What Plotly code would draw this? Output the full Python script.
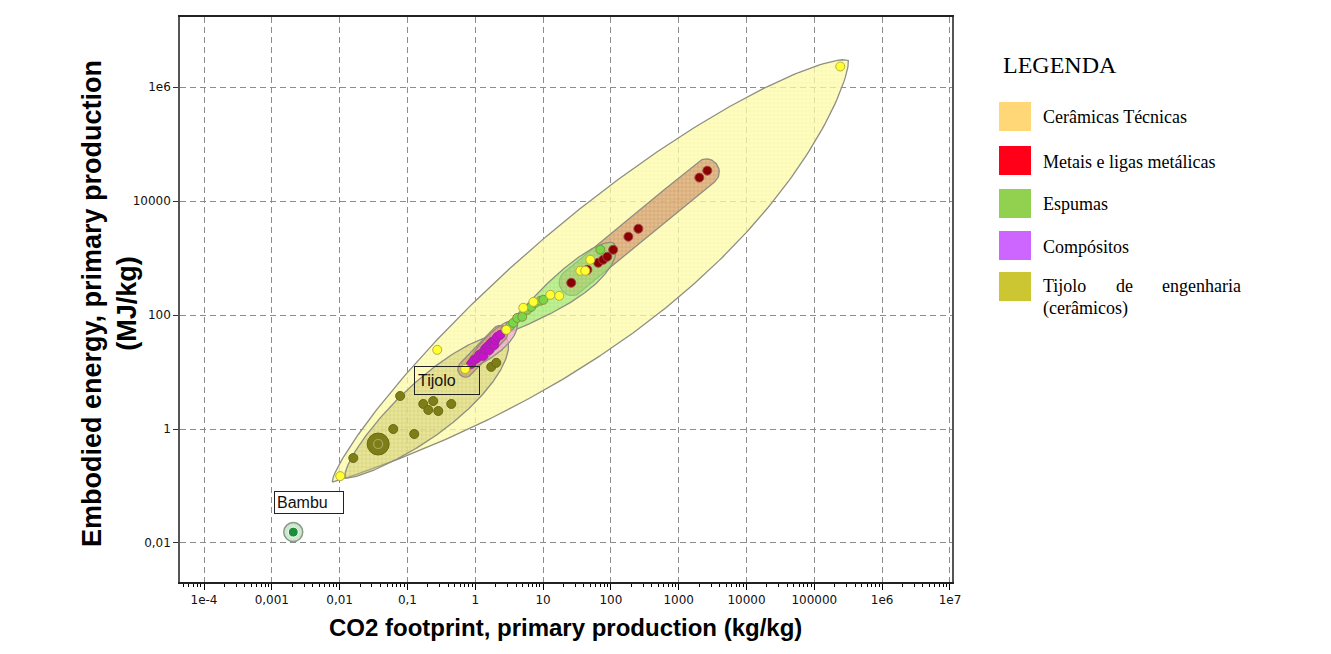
import numpy as np
import plotly.graph_objects as go

# ---------------- data ----------------
ceramicas_x = [0.0102, 0.275, 0.71, 2.87, 5.1, 7.2, 12.8, 17.3, 35.4, 41.9, 49.7, 241500]
ceramicas_y = [0.149, 24.5, 11.3, 55, 134, 170, 226, 217, 598, 598, 933, 2.3e6]

metais_x = [26, 45, 65, 77, 88.5, 108, 181, 254, 2014, 2640]
metais_y = [368, 622, 827, 933, 1054, 1400, 2370, 3270, 25800, 34200]

espumas_x = [2.77, 3.28, 3.63, 4.16, 4.93, 5.85, 6.7, 7.67, 9.1, 10.1, 69.8]
espumas_y = [55, 64.6, 73, 89, 93, 123, 139, 164, 178, 185, 1400]

compositos_x = [0.873, 0.967, 1.07, 1.15, 1.27, 1.31, 1.40, 1.50, 1.61, 1.66, 1.78, 1.91, 1.97, 2.11, 2.34]
compositos_y = [13.9, 16.3, 17.7, 20.0, 21.7, 19.2, 25.5, 27.6, 24.4, 31.2, 33.8, 29.9, 36.6, 41.4, 44.9]

tijolo_x = [0.0159, 0.037, 0.0618, 0.126, 0.078, 0.171, 0.203, 0.24, 0.285, 0.443, 1.72, 2.04]
tijolo_y = [0.31, 0.545, 1.0, 0.817, 3.8, 2.75, 2.16, 3.1, 2.07, 2.75, 12.3, 14.5]

bambu_x = [0.00207]
bambu_y = [0.0155]

legend_labels = ["Cerâmicas Técnicas", "Metais e ligas metálicas", "Espumas", "Compósitos",
                 "Tijolo de engenharia (cerâmicos)"]
legend_colors = ["#FFD777", "#FF0018", "#92D050", "#CC66FF", "#CCC633"]

x_tickvals = [1e-4, 1e-3, 1e-2, 1e-1, 1, 10, 100, 1000, 1e4, 1e5, 1e6, 1e7]
x_ticktext = ["1e-4", "0,001", "0,01", "0,1", "1", "10", "100", "1000", "10000", "100000", "1e6", "1e7"]
y_tickvals = [0.01, 1, 100, 1e4, 1e6]
y_ticktext = ["0,01", "1", "100", "10000", "1e6"]

# ---------------- geometry helpers ----------------
SX, SY = 67.8, 56.9  # px per decade, to keep envelope shapes isotropic on screen
PL, PR, PT, PB = 180, 952, 17, 582
W_FIG, H_FIG = 1331, 654


def envelope(xs, ys, off0, off1, up, down, n=160, capsule=False):
    U = np.log10(np.asarray(xs, float)) * SX
    V = np.log10(np.asarray(ys, float)) * SY
    P = np.column_stack([U, V])
    c = P.mean(axis=0)
    _, _, vt = np.linalg.svd(P - c)
    d = vt[0]
    if d[0] < 0:
        d = -d
    proj = (P - c) @ d
    a = P[np.argmin(proj)]
    b = P[np.argmax(proj)]
    t0 = a + np.array([off0[0], -off0[1]])
    t1 = b + np.array([off1[0], -off1[1]])
    L = np.linalg.norm(t1 - t0)
    u = (t1 - t0) / L
    nv = np.array([-u[1], u[0]])
    t = np.linspace(0, 1, n)

    def prof(side):
        W, pw, pk = side
        if capsule:
            s = t * L
            m = np.minimum(np.minimum(s, L - s), W)
            return np.sqrt(np.clip(W ** 2 - (W - m) ** 2, 0, None))
        ex = np.log(0.5) / np.log(pk)
        tau = t ** ex
        return W * np.clip(4 * tau * (1 - tau), 0, None) ** pw

    base = t0[None, :] + (t * L)[:, None] * u[None, :]
    upper = base + prof(up)[:, None] * nv[None, :]
    lower = base - prof(down)[:, None] * nv[None, :]
    poly = np.vstack([upper, lower[::-1], upper[:1]])
    return 10 ** (poly[:, 0] / SX), 10 ** (poly[:, 1] / SY)


def paper(px, py):
    return (px - PL) / (PR - PL), (PB - py) / (PB - PT)


fig = go.Figure()
EDGE = dict(color="#8E8E82", width=1.3)


def add_env(ex, ey, fill, pat):
    fig.add_trace(go.Scatter(
        x=ex, y=ey, mode="lines", fill="toself", fillcolor=fill, line=EDGE,
        fillpattern=dict(shape="+", size=4, solidity=0.25, fgcolor=pat, fillmode="overlay"),
        hoverinfo="skip", showlegend=False))


# envelopes
ex, ey = envelope(ceramicas_x, ceramicas_y, (-8, 6), (8, -6), (55, 0.7, 0.52), (76, 0.8, 0.56))
add_env(ex, ey, "rgba(255,252,170,0.75)", "rgba(225,215,110,0.5)")
ex, ey = envelope(tijolo_x, tijolo_y, (-8, 20), (10, -25), (26, 0.55, 0.55), (29, 0.55, 0.6))
add_env(ex, ey, "rgba(205,200,105,0.45)", "rgba(150,150,60,0.5)")
ex, ey = envelope(metais_x, metais_y, (-9, 8), (9, -7), (13, 1, 0.5), (13, 1, 0.5), capsule=True)
add_env(ex, ey, "rgba(205,135,95,0.55)", "rgba(150,80,50,0.5)")
ex, ey = envelope(espumas_x, espumas_y, (-9, 8), (14, -6), (12, 0.55, 0.68), (20, 0.55, 0.68))
add_env(ex, ey, "rgba(150,235,120,0.6)", "rgba(90,180,70,0.45)")
ex, ey = envelope(compositos_x, compositos_y, (-9, 9), (16, -14), (9, 0.6, 0.6), (11, 0.6, 0.65))
add_env(ex, ey, "rgba(245,170,220,0.7)", "rgba(200,110,170,0.4)")
ex, ey = envelope(compositos_x, compositos_y, (-11, 11), (5, -7), (8, 1, 0.5), (8, 1, 0.5), capsule=True)
add_env(ex, ey, "rgba(200,130,100,0.45)", "rgba(150,80,60,0.4)")


def pts(x, y, fill, line, size=9):
    fig.add_trace(go.Scatter(x=x, y=y, mode="markers",
                             marker=dict(size=size, color=fill, line=dict(color=line, width=1)),
                             hoverinfo="x+y", showlegend=False))


pts(tijolo_x, tijolo_y, "#7E7E18", "#6A6A12")
pts(tijolo_x[1:2], tijolo_y[1:2], "#7E7E18", "#6A6A12", size=22)
fig.add_trace(go.Scatter(x=tijolo_x[1:2], y=tijolo_y[1:2], mode="markers",
                         marker=dict(size=9, color="rgba(0,0,0,0)", line=dict(color="#A8A860", width=1.2)),
                         hoverinfo="skip", showlegend=False))
pts(espumas_x, espumas_y, "#78D64A", "#8C8C3C")
pts(compositos_x, compositos_y, "#CC10CC", "#9A2A9A")
pts(metais_x, metais_y, "#8B0000", "#A04848")
pts(ceramicas_x, ceramicas_y, "#FFFF33", "#B4AE3E")
# Bambu
fig.add_trace(go.Scatter(x=bambu_x, y=bambu_y, mode="markers",
                         marker=dict(size=19, color="#CDE8CD", line=dict(color="#8A9A8A", width=1.5)),
                         hoverinfo="skip", showlegend=False))
pts(bambu_x, bambu_y, "#1C8E3A", "#FFFFFF", size=10)

# callout labels
fig.add_annotation(x=np.log10(tijolo_x[7]), y=np.log10(tijolo_y[7]), xref="x", yref="y",
                   text="Tijolo", showarrow=True, arrowcolor="rgba(0,0,0,0)", ax=14, ay=-21,
                   font=dict(family="Liberation Sans", size=16, color="#111"),
                   bordercolor="#222", borderwidth=1, borderpad=3, width=58, height=21, align="left")
fig.add_annotation(x=np.log10(bambu_x[0]), y=np.log10(bambu_y[0]), xref="x", yref="y",
                   text="Bambu", showarrow=True, arrowcolor="rgba(0,0,0,0)", ax=16, ay=-30,
                   font=dict(family="Liberation Sans", size=16, color="#111"),
                   bordercolor="#222", borderwidth=1, borderpad=2, width=64, height=17, align="left",
                   bgcolor="white")

# axis titles
ax_, ay_ = paper(565, 627)
fig.add_annotation(x=ax_, y=ay_, xref="paper", yref="paper", showarrow=False,
                   xanchor="center", yanchor="middle",
                   text="<b>CO2 footprint, primary production (kg/kg)</b>",
                   font=dict(family="Liberation Sans", size=24, color="#000"))
ax_, ay_ = paper(109, 304)
fig.add_annotation(x=ax_, y=ay_, xref="paper", yref="paper", showarrow=False, textangle=-90,
                   xanchor="center", yanchor="middle",
                   text="<b>Embodied energy, primary production<br>(MJ/kg)</b>",
                   font=dict(family="Liberation Sans", size=27, color="#000"))

# custom legend
lx, ly = paper(1001, 65)
fig.add_annotation(x=lx, y=ly, xref="paper", yref="paper", showarrow=False, xanchor="left",
                   yanchor="middle", text="LEGENDA",
                   font=dict(family="Liberation Serif", size=24, color="#000"))
sw_top = [102, 146, 189, 231, 272]
txt_y = [117, 162, 204, 247, 286]
tf = dict(family="Liberation Serif", size=18, color="#000")


def label(px, py, text, anchor="left"):
    tx, ty = paper(px, py)
    fig.add_annotation(x=tx, y=ty, xref="paper", yref="paper", showarrow=False,
                       xanchor=anchor, yanchor="middle", text=text, font=tf)


for i, (lab, col) in enumerate(zip(legend_labels, legend_colors)):
    x0, y0 = paper(999, sw_top[i])
    x1, y1 = paper(1031, sw_top[i] + 29)
    fig.add_shape(type="rect", xref="paper", yref="paper", x0=x0, x1=x1, y0=y1, y1=y0,
                  fillcolor=col, line=dict(width=0))
    if i < 4:
        label(1041, txt_y[i], lab)
    else:
        words = lab.split(" ")
        label(1041, txt_y[i], words[0])
        label(1124, txt_y[i], words[1], "center")
        label(1243, txt_y[i], words[2], "right")
        label(1041, 308, words[3])

minor_x = [k * 10.0 ** d for d in range(-5, 7) for k in range(2, 10)]
GRID = dict(showgrid=True, gridcolor="#8C8C8C", gridwidth=1.3, griddash="6px,4px")
fig.update_xaxes(type="log", range=[-4.354, 7.03], tickmode="array", tickvals=x_tickvals,
                 ticktext=x_ticktext, ticks="outside", ticklen=6, tickcolor="#000",
                 showline=True, linecolor="#222", linewidth=1.5, mirror=True, zeroline=False,
                 tickfont=dict(family="DejaVu Sans", size=12, color="#111"),
                 minor=dict(tickvals=minor_x, ticks="outside", ticklen=3, tickcolor="#000", showgrid=False),
                 **GRID)
fig.update_yaxes(type="log", range=[-2.685, 7.23], tickmode="array", tickvals=y_tickvals,
                 ticktext=y_ticktext, ticks="outside", ticklen=5, tickcolor="#333",
                 showline=True, linecolor="#555", linewidth=1.5, mirror=True, zeroline=False,
                 tickfont=dict(family="DejaVu Sans", size=12, color="#111"), **GRID)

fig.update_layout(width=W_FIG, height=H_FIG, margin=dict(l=PL, r=W_FIG - PR, t=PT, b=H_FIG - PB),
                  plot_bgcolor="white", paper_bgcolor="white", showlegend=False)

fig.write_html("out.html", config={"displayModeBar": False},
               post_script="document.body.style.margin='0px';")
